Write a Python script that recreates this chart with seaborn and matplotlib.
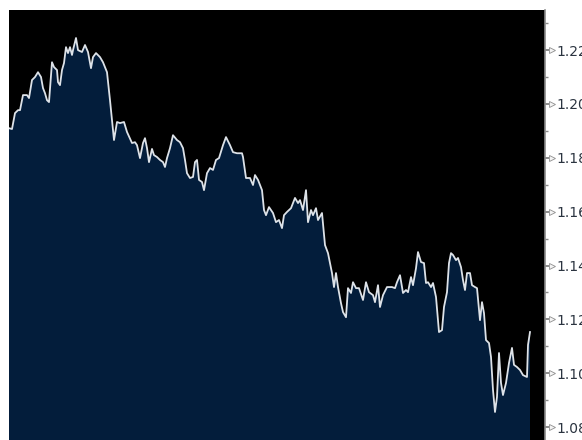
import matplotlib
matplotlib.use("Agg")
import matplotlib.pyplot as plt
from matplotlib.ticker import MultipleLocator, FormatStrFormatter
import seaborn as sns
import pandas as pd

# ------------------------------------------------------------------
# data (trading day index, price)
# ------------------------------------------------------------------
day = [0, 3, 6, 9, 11, 14, 18, 20, 23, 26, 29, 32, 34, 36, 38, 40, 43, 45, 48, 49,
       51, 53, 55, 57, 59, 61, 63, 64, 67, 69, 73, 76, 79, 82, 84, 87, 91, 94, 98, 101,
       105, 108, 111, 115, 118, 123, 126, 128, 131, 134, 136, 138, 140, 143, 145, 148, 151, 154, 156, 158,
       161, 164, 168, 171, 174, 176, 178, 181, 184, 186, 188, 190, 193, 195, 198, 201, 204, 207, 210, 214,
       217, 221, 224, 228, 233, 234, 237, 241, 244, 246, 249, 253, 255, 257, 260, 264, 267, 270, 273, 275,
       278, 282, 286, 289, 291, 294, 297, 299, 302, 304, 307, 309, 313, 316, 319, 323, 325, 327, 329, 332,
       334, 337, 339, 342, 344, 347, 350, 354, 357, 360, 364, 366, 369, 371, 374, 378, 383, 386, 388, 391,
       394, 397, 399, 402, 404, 407, 409, 412, 415, 417, 419, 422, 424, 427, 430, 433, 435, 438, 440, 442,
       444, 447, 449, 452, 454, 456, 458, 461, 463, 466, 468, 471, 473, 475, 477, 480, 482, 484, 486, 488,
       490, 492, 494, 497, 500, 503, 505, 508, 511, 514, 518, 519, 521]

price = [1.1910, 1.1907, 1.1966, 1.1977, 1.1977, 1.2033, 1.2033, 1.2022, 1.2089, 1.2100,
         1.2118, 1.2100, 1.2059, 1.2040, 1.2014, 1.2007, 1.2155, 1.2137, 1.2126, 1.2081,
         1.2070, 1.2126, 1.2152, 1.2211, 1.2189, 1.2211, 1.2182, 1.2200, 1.2245, 1.2200,
         1.2193, 1.2219, 1.2193, 1.2133, 1.2174, 1.2189, 1.2174, 1.2155, 1.2118, 1.2014,
         1.1866, 1.1933, 1.1929, 1.1933, 1.1896, 1.1855, 1.1858, 1.1847, 1.1799, 1.1855,
         1.1873, 1.1836, 1.1784, 1.1833, 1.1810, 1.1803, 1.1792, 1.1784, 1.1766, 1.1799,
         1.1836, 1.1884, 1.1866, 1.1858, 1.1836, 1.1792, 1.1743, 1.1725, 1.1729, 1.1784,
         1.1792, 1.1718, 1.1710, 1.1680, 1.1743, 1.1762, 1.1755, 1.1792, 1.1799, 1.1847,
         1.1877, 1.1847, 1.1821, 1.1817, 1.1817, 1.1803, 1.1725, 1.1725, 1.1699, 1.1736,
         1.1718, 1.1680, 1.1606, 1.1587, 1.1617, 1.1595, 1.1561, 1.1569, 1.1539, 1.1587,
         1.1599, 1.1613, 1.1651, 1.1632, 1.1643, 1.1606, 1.1680, 1.1561, 1.1606, 1.1587,
         1.1613, 1.1569, 1.1595, 1.1476, 1.1446, 1.1372, 1.1320, 1.1372, 1.1320, 1.1260,
         1.1227, 1.1208, 1.1316, 1.1298, 1.1338, 1.1316, 1.1316, 1.1272, 1.1338, 1.1301,
         1.1290, 1.1264, 1.1327, 1.1246, 1.1290, 1.1320, 1.1320, 1.1316, 1.1338, 1.1364,
         1.1298, 1.1309, 1.1301, 1.1357, 1.1327, 1.1390, 1.1450, 1.1413, 1.1409, 1.1335,
         1.1338, 1.1320, 1.1335, 1.1283, 1.1153, 1.1160, 1.1246, 1.1301, 1.1409, 1.1446,
         1.1439, 1.1420, 1.1428, 1.1394, 1.1346, 1.1309, 1.1372, 1.1372, 1.1327, 1.1320,
         1.1316, 1.1197, 1.1264, 1.1223, 1.1123, 1.1112, 1.1060, 1.0938, 1.0856, 1.0912,
         1.1075, 1.0964, 1.0919, 1.0964, 1.1038, 1.1094, 1.1031, 1.1023, 1.1012, 1.0993,
         1.0986, 1.1105, 1.1153]

y_ticks = [1.08, 1.10, 1.12, 1.14, 1.16, 1.18, 1.20, 1.22]

BG = "#000000"
FILL = "#031d3b"
LINE = "#dde2e8"
AXIS = "#8a8a8a"
TEXT = "#2b3440"


def plotArea(df):
    fig = plt.figure(figsize=(5.82, 4.40), dpi=100, facecolor="white")
    ax = fig.add_axes([9 / 582, 0.0, 536 / 582, 430 / 440])
    ax.set_facecolor(BG)

    ax.fill_between(df["day"], df["price"], 1.0, color=FILL, linewidth=0)
    sns.lineplot(x="day", y="price", data=df, ax=ax, color=LINE, linewidth=1.3)

    ax.set_xlim(0, 536)
    ax.set_ylim(1.0752, 1.2349)
    ax.set_xlabel("")
    ax.set_ylabel("")
    ax.set_xticks([])

    ax.yaxis.tick_right()
    ax.set_yticks(y_ticks)
    ax.yaxis.set_minor_locator(MultipleLocator(0.01))
    ax.yaxis.set_major_formatter(FormatStrFormatter("%.2f"))
    ax.tick_params(axis="y", which="major", length=3, width=1.2, color="#777777",
                   labelcolor=TEXT, labelsize=10, pad=5.5)
    ax.tick_params(axis="y", which="minor", length=2.5, width=1, color=AXIS)

    # triangular tick heads next to the price axis
    ax.plot([1.0 + 7 / 536] * len(y_ticks), y_ticks, linestyle="none", marker=">",
            markersize=5, markerfacecolor="#f4f4f4", markeredgecolor="#8f8f8f",
            markeredgewidth=0.6, transform=ax.get_yaxis_transform(), clip_on=False)

    for side in ["left", "top", "bottom"]:
        ax.spines[side].set_visible(False)
    ax.spines["right"].set_color(AXIS)
    ax.spines["right"].set_linewidth(1.2)

    fig.savefig("out.png", dpi=100, facecolor="white")


def main():
    df = pd.DataFrame({"day": day, "price": price})
    plotArea(df)


if __name__ == "__main__":
    main()
